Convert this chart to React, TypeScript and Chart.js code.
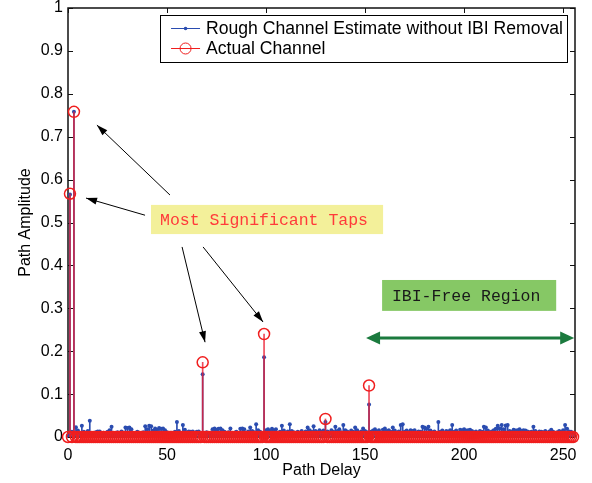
import { useEffect, useRef } from 'react';
import { Chart, registerables } from 'chart.js';

Chart.register(...registerables);

// ---------- data ----------
const delays: number[] = Array.from({ length: 256 }, (_, i) => i);

const roughEstimate: number[] = [
  0.004, 0.565, 0.012, 0.758, 0.023, 0.015, 0.010, 0.026, 0.012, 0.008, 0.014, 0.038, 0.009, 0.006, 0.011, 0.013,
  0.013, 0.007, 0.010, 0.005, 0.012, 0.016, 0.024, 0.009, 0.006, 0.011, 0.008, 0.013, 0.010, 0.022, 0.021, 0.022,
  0.018, 0.009, 0.007, 0.012, 0.010, 0.006, 0.011, 0.025, 0.018, 0.026, 0.025, 0.015, 0.020, 0.017, 0.021, 0.019,
  0.020, 0.016, 0.011, 0.008, 0.010, 0.006, 0.012, 0.035, 0.014, 0.009, 0.028, 0.017, 0.011, 0.013, 0.012, 0.013,
  0.010, 0.012, 0.013, 0.009, 0.146, 0.008, 0.011, 0.006, 0.010, 0.018, 0.020, 0.017, 0.019, 0.020, 0.016, 0.012,
  0.009, 0.011, 0.020, 0.007, 0.010, 0.012, 0.008, 0.019, 0.020, 0.018, 0.010, 0.013, 0.022, 0.014, 0.011, 0.030,
  0.016, 0.012, 0.009, 0.186, 0.016, 0.018, 0.014, 0.019, 0.016, 0.018, 0.010, 0.012, 0.026, 0.015, 0.009, 0.013,
  0.030, 0.014, 0.011, 0.008, 0.012, 0.010, 0.014, 0.009, 0.013, 0.022, 0.016, 0.012, 0.025, 0.014, 0.011, 0.016,
  0.012, 0.015, 0.035, 0.013, 0.010, 0.016, 0.012, 0.024, 0.014, 0.018, 0.011, 0.028, 0.016, 0.013, 0.010, 0.015,
  0.012, 0.022, 0.016, 0.010, 0.013, 0.020, 0.014, 0.011, 0.076, 0.012, 0.015, 0.018, 0.013, 0.016, 0.010, 0.017,
  0.020, 0.014, 0.016, 0.012, 0.022, 0.015, 0.010, 0.013, 0.028, 0.030, 0.012, 0.015, 0.011, 0.016, 0.014, 0.016,
  0.010, 0.013, 0.012, 0.024, 0.022, 0.019, 0.024, 0.015, 0.011, 0.013, 0.009, 0.035, 0.012, 0.015, 0.010, 0.014,
  0.013, 0.016, 0.028, 0.012, 0.015, 0.010, 0.017, 0.016, 0.018, 0.015, 0.016, 0.017, 0.014, 0.011, 0.013, 0.010,
  0.014, 0.012, 0.024, 0.022, 0.015, 0.011, 0.013, 0.016, 0.019, 0.026, 0.020, 0.028, 0.018, 0.027, 0.028, 0.014,
  0.012, 0.017, 0.015, 0.016, 0.018, 0.014, 0.016, 0.015, 0.013, 0.011, 0.012, 0.024, 0.014, 0.010, 0.013, 0.012,
  0.011, 0.014, 0.010, 0.013, 0.017, 0.012, 0.009, 0.011, 0.014, 0.012, 0.016, 0.028, 0.019, 0.013, 0.012, 0.010,
];

const actualTapDelays: number[] = [1, 3, 68, 99, 130, 152];
const actualTapGains: number[] = [0.567, 0.758, 0.174, 0.240, 0.042, 0.120];

const xTicks: number[] = [0, 50, 100, 150, 200, 250];
const yTicks: number[] = [0, 0.1, 0.2, 0.3, 0.4, 0.5, 0.6, 0.7, 0.8, 0.9, 1];

const legendLabels: string[] = ['Rough Channel Estimate without IBI Removal', 'Actual Channel'];
const noteTaps = 'Most Significant Taps';
const noteRegion = 'IBI-Free Region';

// ---------- derived ----------
const actualChannel: number[] = delays.map((d) => {
  const k = actualTapDelays.indexOf(d);
  return k >= 0 ? actualTapGains[k] : 0;
});

const BLUE = '#2a4cb0';
const RED = '#f01e1e';
const SANS = '"Liberation Sans", Arial, Helvetica, sans-serif';
const MONO = '"Liberation Mono", "Courier New", monospace';

// annotation placement in data units
const place = {
  tapsBox: { x0: 41.9, x1: 159.1, y0: 0.541, y1: 0.473 },
  regionBox: { x0: 158.6, x1: 246.5, y0: 0.366, y1: 0.294 },
  arrows: [
    { x0: 51.5, y0: 0.564, x1: 14.6, y1: 0.727 },
    { x0: 38.9, y0: 0.517, x1: 9.1, y1: 0.557 },
    { x0: 57.6, y0: 0.443, x1: 69.2, y1: 0.221 },
    { x0: 68.2, y0: 0.443, x1: 98.5, y1: 0.268 },
  ],
  span: { x0: 150.5, x1: 255.6, y: 0.231 },
};

function arrowHead(ctx: CanvasRenderingContext2D, x0: number, y0: number, x1: number, y1: number, len: number, hw: number) {
  const a = Math.atan2(y1 - y0, x1 - x0);
  const bx = x1 - len * Math.cos(a);
  const by = y1 - len * Math.sin(a);
  ctx.beginPath();
  ctx.moveTo(x1, y1);
  ctx.lineTo(bx + hw * Math.sin(a), by - hw * Math.cos(a));
  ctx.lineTo(bx - hw * Math.sin(a), by + hw * Math.cos(a));
  ctx.closePath();
  ctx.fill();
}

const framePlugin = {
  id: 'matlabFrame',
  beforeDatasetsDraw(chart: any) {
    const { ctx, chartArea: ca, scales } = chart;
    const px = (v: number) => scales.x.getPixelForValue(v);
    const py = (v: number) => scales.y.getPixelForValue(v);
    ctx.save();
    ctx.strokeStyle = '#111';
    ctx.lineWidth = 1.5;
    ctx.strokeRect(ca.left, ca.top, ca.right - ca.left, ca.bottom - ca.top);
    ctx.lineWidth = 1;
    ctx.beginPath();
    xTicks.forEach((t) => {
      const x = Math.round(px(t)) + 0.5;
      ctx.moveTo(x, ca.bottom); ctx.lineTo(x, ca.bottom - 5);
      ctx.moveTo(x, ca.top); ctx.lineTo(x, ca.top + 5);
    });
    yTicks.forEach((t) => {
      const y = Math.round(py(t)) + 0.5;
      ctx.moveTo(ca.left, y); ctx.lineTo(ca.left + 5, y);
      ctx.moveTo(ca.right, y); ctx.lineTo(ca.right - 5, y);
    });
    ctx.stroke();
    ctx.restore();
  },
  afterDatasetsDraw(chart: any) {
    const { ctx, chartArea: ca, scales } = chart;
    const px = (v: number) => scales.x.getPixelForValue(v);
    const py = (v: number) => scales.y.getPixelForValue(v);
    ctx.save();

    // annotation: arrows
    ctx.strokeStyle = '#000';
    ctx.fillStyle = '#000';
    ctx.lineWidth = 1;
    place.arrows.forEach((a) => {
      const x0 = px(a.x0), y0 = py(a.y0), x1 = px(a.x1), y1 = py(a.y1);
      ctx.beginPath();
      ctx.moveTo(x0, y0);
      ctx.lineTo(x1, y1);
      ctx.stroke();
      arrowHead(ctx, x0, y0, x1, y1, 11, 3.5);
    });

    // annotation: taps box
    const tb = place.tapsBox;
    ctx.fillStyle = '#f3f09a';
    ctx.fillRect(px(tb.x0), py(tb.y0), px(tb.x1) - px(tb.x0), py(tb.y1) - py(tb.y0));
    ctx.fillStyle = '#ff3a3a';
    ctx.font = `16.5px ${MONO}`;
    ctx.textAlign = 'center';
    ctx.textBaseline = 'middle';
    ctx.fillText(noteTaps, (px(tb.x0) + px(tb.x1)) / 2 - 3, (py(tb.y0) + py(tb.y1)) / 2 + 1);

    // annotation: region box
    const rb = place.regionBox;
    ctx.fillStyle = '#86c865';
    ctx.fillRect(px(rb.x0), py(rb.y0), px(rb.x1) - px(rb.x0), py(rb.y1) - py(rb.y0));
    ctx.fillStyle = '#1a1a1a';
    ctx.fillText(noteRegion, (px(rb.x0) + px(rb.x1)) / 2 - 3, (py(rb.y0) + py(rb.y1)) / 2 + 1);

    // annotation: double arrow
    const sp = place.span;
    const sx0 = px(sp.x0), sx1 = px(sp.x1), sy = py(sp.y);
    ctx.strokeStyle = '#1b7a3e';
    ctx.fillStyle = '#1b7a3e';
    ctx.lineWidth = 3;
    ctx.beginPath();
    ctx.moveTo(sx0 + 8, sy);
    ctx.lineTo(sx1 - 8, sy);
    ctx.stroke();
    arrowHead(ctx, sx0 + 20, sy, sx0, sy, 14, 6.5);
    arrowHead(ctx, sx1 - 20, sy, sx1, sy, 14, 6.5);

    // legend
    ctx.font = `17.6px ${SANS}`;
    const tw = Math.max(...legendLabels.map((s) => ctx.measureText(s).width));
    const lw = 46 + tw + 4;
    const lx = ca.right - 8 - lw;
    const ly = ca.top + 7;
    const lh = 47;
    ctx.fillStyle = '#fff';
    ctx.fillRect(lx, ly, lw, lh);
    ctx.strokeStyle = '#000';
    ctx.lineWidth = 1;
    ctx.strokeRect(Math.round(lx) + 0.5, ly + 0.5, Math.round(lw), lh);
    const rows = [ly + 13.5, ly + 33.5];
    const colors = [BLUE, RED];
    rows.forEach((ry, i) => {
      ctx.strokeStyle = colors[i];
      ctx.lineWidth = 1;
      ctx.beginPath();
      ctx.moveTo(lx + 11, ry);
      ctx.lineTo(lx + 40, ry);
      ctx.stroke();
      if (i === 0) {
        ctx.fillStyle = BLUE;
        ctx.beginPath();
        ctx.arc(lx + 25.5, ry, 1.8, 0, Math.PI * 2);
        ctx.fill();
      } else {
        ctx.beginPath();
        ctx.arc(lx + 25.5, ry, 5.5, 0, Math.PI * 2);
        ctx.stroke();
      }
      ctx.fillStyle = '#000';
      ctx.textAlign = 'left';
      ctx.textBaseline = 'middle';
      ctx.fillText(legendLabels[i], lx + 46, ry + 1);
    });

    ctx.restore();
  },
};

export default function App() {
  const ref = useRef<HTMLCanvasElement>(null);

  useEffect(() => {
    const canvas = ref.current;
    if (!canvas) return;
    const tickFont = { family: SANS, size: 16 };
    const chart = new Chart(canvas, {
      type: 'bar',
      data: {
        datasets: [
          {
            type: 'line',
            label: legendLabels[1],
            data: delays.map((d, i) => ({ x: d, y: actualChannel[i] })),
            showLine: false,
            pointRadius: 5.5,
            pointBorderWidth: 1.5,
            pointBorderColor: RED,
            pointBackgroundColor: 'rgba(0,0,0,0)',
            borderColor: RED,
            clip: false,
            order: 1,
          } as any,
          {
            type: 'bar',
            label: 'actual stems',
            data: actualTapDelays.map((d, i) => ({ x: d, y: actualTapGains[i] })),
            backgroundColor: 'rgba(235,30,50,0.8)',
            barThickness: 1,
            grouped: false,
            order: 2,
          } as any,
          {
            type: 'line',
            label: legendLabels[0],
            data: delays.map((d, i) => ({ x: d, y: roughEstimate[i] })),
            showLine: false,
            pointRadius: 2,
            pointBorderWidth: 0,
            pointBackgroundColor: BLUE,
            borderColor: BLUE,
            clip: false,
            order: 3,
          } as any,
          {
            type: 'bar',
            label: 'rough stems',
            data: delays.map((d, i) => ({ x: d, y: roughEstimate[i] })),
            backgroundColor: BLUE,
            barThickness: 1,
            grouped: false,
            order: 4,
          } as any,
        ],
      },
      options: {
        animation: false,
        responsive: true,
        maintainAspectRatio: false,
        layout: { padding: { top: 8, right: 17, left: 0, bottom: 0 } },
        plugins: { legend: { display: false }, tooltip: { enabled: false } },
        scales: {
          x: {
            type: 'linear',
            min: 0,
            max: 256,
            offset: false,
            grid: { display: false, drawTicks: false },
            border: { display: false },
            ticks: { color: '#000', font: tickFont, padding: 9, maxRotation: 0 },
            afterBuildTicks: (s: any) => { s.ticks = xTicks.map((v) => ({ value: v })); },
            afterFit: (s: any) => { s.height = 46; s.paddingLeft = 0; s.paddingRight = 0; },
            title: { display: true, text: 'Path Delay', color: '#000', font: tickFont, padding: { top: 0, bottom: 3 } },
          },
          y: {
            type: 'linear',
            min: 0,
            max: 1,
            grid: { display: false, drawTicks: false },
            border: { display: false },
            ticks: {
              color: '#000',
              font: tickFont,
              padding: 5,
              callback: (v: any) => (v === 0 || v === 1 ? String(v) : Number(v).toFixed(1)),
            },
            afterBuildTicks: (s: any) => { s.ticks = yTicks.map((v) => ({ value: v })); },
            afterFit: (s: any) => { s.width = 68; s.paddingTop = 0; s.paddingBottom = 0; },
            title: { display: true, text: 'Path Amplitude', color: '#000', font: tickFont, padding: { top: 16, bottom: 0 } },
          },
        },
      } as any,
      plugins: [framePlugin],
    });
    return () => chart.destroy();
  }, []);

  return (
    <div style={{ position: 'fixed', left: 0, top: 0, width: 592, height: 483, background: '#fff' }}>
      <canvas ref={ref} />
    </div>
  );
}
